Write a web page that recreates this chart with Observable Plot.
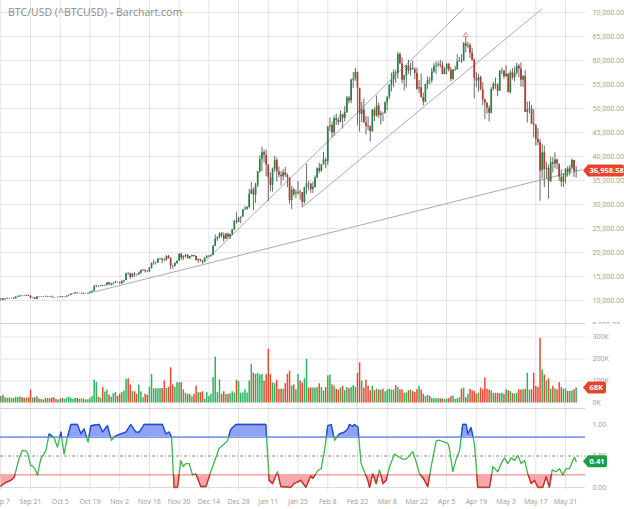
<!DOCTYPE html>
<html><head><meta charset="utf-8">
<script src="https://cdn.jsdelivr.net/npm/d3@7"></script>
<script src="https://cdn.jsdelivr.net/npm/@observablehq/plot@0.6"></script>
<style>
html,body{margin:0;padding:0;background:#fff;}
#root{position:relative;width:624px;height:509px;overflow:hidden;background:#fff;font-family:"Open Sans",sans-serif;}
#root svg{position:absolute;left:0;overflow:hidden;}
.sep{position:absolute;left:0;width:585px;height:1px;background:#d2d2d2;}
#title{position:absolute;left:8px;top:7px;font-size:10.5px;line-height:1;color:#8a8a8a;white-space:nowrap;}
</style></head><body>
<div id="root"></div>
<script>
// ---------- DATA (prices in thousands of USD, one candle per day from 2020-09-07) ----------
const startDate = "2020-09-07";
const open = [
 10.28,10.37,10.13,10.24,10.36,10.40,10.44,10.33,10.68,10.79,10.96,10.94,10.93,11.08,10.92,10.42,10.53,10.24,10.74,10.69,10.73,10.77,10.71,10.84,
 10.78,10.62,10.58,10.55,10.67,10.79,10.60,10.67,10.92,11.06,11.30,11.38,11.56,11.43,11.43,11.50,11.32,11.36,11.48,11.74,11.92,12.82,12.97,12.93,13.11,13.03,13.07,13.65,13.27,13.46,13.56,
 13.80,13.74,13.55,14.03,14.16,15.59,15.58,14.83,15.48,15.33,15.30,15.70,16.28,16.33,16.07,15.96,16.73,17.68,17.80,17.82,18.66,18.68,18.37,18.36,19.16,18.72,17.15,17.14,17.72,18.18,
 19.63,18.80,19.20,19.44,18.70,19.15,19.36,19.17,18.32,18.55,18.26,18.04,18.80,19.14,19.25,19.44,21.31,22.81,23.13,23.87,23.48,22.75,23.82,23.24,23.73,24.71,26.49,26.28,27.08,27.36,28.84,
 29.00,29.37,32.13,33.00,31.97,33.99,36.82,39.37,40.80,40.25,38.24,35.54,34.00,37.39,39.19,36.83,36.07,35.79,36.63,36.07,35.55,30.83,33.01,32.08,32.26,32.57,32.47,30.41,33.47,34.32,34.27,
 33.11,33.54,35.51,37.47,36.93,38.29,39.26,38.90,46.20,46.48,44.92,47.91,47.50,47.11,48.72,47.94,49.13,52.12,51.57,55.89,56.10,57.54,54.21,48.82,49.71,47.05,46.28,46.11,
 45.14,49.63,48.38,50.54,48.56,48.93,48.91,51.21,52.38,54.88,55.88,57.48,57.34,61.24,59.30,55.91,56.80,58.87,57.86,58.35,58.09,57.35,54.08,54.34,52.30,51.32,55.03,55.85,55.78,57.63,58.73,
 58.92,59.10,59.00,57.10,58.20,59.12,57.99,56.03,58.03,58.10,59.77,59.96,59.86,63.50,62.97,63.11,61.53,60.04,56.22,55.72,56.47,53.90,51.76,51.09,50.05,49.00,54.02,55.03,54.82,53.56,
 57.75,57.83,56.63,57.20,53.33,57.42,56.40,57.36,58.80,58.23,55.86,56.70,49.15,49.72,49.88,46.76,46.46,43.54,42.91,37.00,40.78,37.30,37.53,34.77,38.71,38.40,39.29,38.44,35.69,34.65,35.68,
 37.34,36.69,37.58,39.19,36.87];
const high = [
 10.40,10.44,10.35,10.50,10.41,10.48,10.57,10.79,10.94,11.03,11.03,11.05,11.16,11.08,10.99,10.55,10.53,10.78,10.76,10.77,10.80,10.92,10.86,10.83,
 10.91,10.62,10.60,10.68,10.79,10.80,10.68,10.94,11.09,11.45,11.43,11.70,11.56,11.48,11.54,11.50,11.39,11.49,11.79,12.01,13.18,13.16,13.00,13.15,13.17,13.20,13.76,13.84,13.60,13.65,14.03,
 13.86,13.82,14.06,14.23,15.71,15.88,15.69,15.66,15.80,15.48,15.94,16.32,16.47,16.32,16.18,16.86,17.86,18.39,18.02,18.70,18.78,18.69,18.69,19.35,19.39,18.92,17.40,17.88,18.28,19.75,
 19.85,19.30,19.54,19.50,19.16,19.41,19.38,19.29,18.63,18.56,18.27,18.92,19.38,19.31,19.53,21.46,23.70,23.25,24.09,24.21,24.06,23.99,24.06,23.80,24.79,26.72,28.29,27.39,27.37,28.94,29.60,
 29.60,33.16,34.61,33.44,34.44,36.88,40.18,41.95,41.33,41.33,38.33,36.57,37.60,40.00,39.66,37.86,36.85,37.30,37.75,36.35,35.55,33.78,33.41,32.98,34.78,32.93,32.50,33.62,38.41,34.83,34.36,
 34.64,35.98,37.66,38.59,38.31,40.85,39.62,46.20,48.00,47.15,48.46,48.84,48.02,49.49,48.85,50.47,52.51,52.53,56.18,57.50,58.35,57.53,54.18,51.27,51.95,48.37,48.25,46.43,
 49.78,50.14,52.62,51.13,49.42,49.19,51.40,52.39,54.90,57.34,58.01,57.98,61.68,61.60,60.56,56.92,58.93,60.06,59.43,59.83,58.50,58.40,55.84,57.20,53.23,55.06,56.57,56.44,58.34,59.35,59.72,
 59.65,60.06,59.75,58.50,59.43,59.43,58.54,58.10,58.79,61.22,60.63,61.20,63.74,64.86,63.78,63.52,62.56,60.37,57.48,57.10,56.73,55.41,52.00,51.17,50.55,54.36,55.46,56.37,55.14,57.93,
 58.45,57.91,58.93,57.18,57.90,58.33,58.63,59.46,59.21,59.52,56.81,57.94,51.33,51.44,50.64,49.77,46.62,45.78,43.55,42.46,42.17,38.83,38.24,39.84,39.74,40.78,39.45,38.19,37.23,36.42,37.47,
 37.87,38.17,39.48,39.23,37.90];
const low = [
 9.92,9.95,10.08,10.21,10.20,10.33,10.24,10.30,10.64,10.68,10.78,10.82,10.90,10.83,10.34,10.41,10.20,10.22,10.58,10.65,10.62,10.70,10.68,10.70,
 10.54,10.43,10.53,10.54,10.63,10.55,10.59,10.60,10.83,11.06,11.28,11.31,11.35,11.33,11.28,11.25,11.31,11.35,11.48,11.69,11.90,12.72,12.72,12.90,12.91,12.90,13.06,13.19,12.99,13.13,13.54,
 13.66,13.30,13.32,13.59,14.11,15.23,14.42,14.74,14.86,15.09,15.27,15.43,15.99,15.70,15.79,15.87,16.55,17.35,17.39,17.76,18.41,17.67,18.03,18.17,18.62,16.44,16.55,16.90,17.53,18.18,
 18.33,18.35,18.92,18.61,18.58,18.96,19.00,18.20,17.70,17.96,17.60,18.04,18.73,19.00,19.06,19.38,21.26,22.35,22.82,23.08,22.16,22.68,22.92,22.70,23.46,24.52,25.92,26.22,25.99,27.36,28.80,
 28.80,29.09,32.05,28.72,30.22,33.51,36.49,36.83,38.65,35.77,30.55,32.70,32.58,36.70,34.66,35.55,33.85,34.92,35.66,33.49,30.07,28.95,31.68,31.17,31.98,30.88,29.37,30.08,32.06,32.81,32.30,
 32.30,33.42,35.36,36.42,36.65,38.22,37.45,38.08,45.17,43.86,44.23,46.48,46.42,47.02,45.73,47.19,48.97,50.96,50.97,54.11,55.64,46.35,45.07,47.06,46.87,44.45,45.31,43.02,
 45.12,47.29,48.17,47.87,46.54,47.21,48.93,49.53,51.86,53.45,54.32,55.25,56.15,59.10,55.17,53.65,54.23,57.15,56.77,57.98,55.99,53.75,53.08,52.10,50.55,51.33,53.97,54.96,55.22,57.31,57.10,
 58.61,58.42,57.00,57.05,56.98,57.60,55.57,55.86,57.74,57.92,59.66,59.39,59.87,61.55,62.45,60.40,59.80,52.00,54.34,53.41,53.69,50.58,47.71,48.81,47.16,48.85,53.66,53.99,52.43,53.85,
 57.05,56.07,56.48,53.21,52.97,55.93,55.56,56.96,56.39,54.46,54.38,49.15,46.98,48.87,46.66,43.87,42.20,42.29,30.68,35.35,33.49,35.38,31.11,34.55,36.58,37.41,37.25,34.76,33.63,33.52,34.24,
 35.70,35.97,37.20,35.62,35.50];
const close = [
 10.37,10.13,10.24,10.36,10.40,10.44,10.33,10.68,10.79,10.96,10.94,10.93,11.08,10.92,10.42,10.53,10.24,10.74,10.69,10.73,10.77,10.71,10.84,10.78,
 10.62,10.58,10.55,10.67,10.79,10.60,10.67,10.92,11.06,11.30,11.38,11.56,11.43,11.43,11.50,11.32,11.36,11.48,11.74,11.92,12.82,12.97,12.93,13.11,13.03,13.07,13.65,13.27,13.46,13.56,13.80,
 13.74,13.55,14.03,14.16,15.59,15.58,14.83,15.48,15.33,15.30,15.70,16.28,16.33,16.07,15.96,16.73,17.68,17.80,17.82,18.66,18.68,18.37,18.36,19.16,18.72,17.15,17.14,17.72,18.18,19.63,
 18.80,19.20,19.44,18.70,19.15,19.36,19.17,18.32,18.55,18.26,18.04,18.80,19.14,19.25,19.44,21.31,22.81,23.13,23.87,23.48,22.75,23.82,23.24,23.73,24.71,26.49,26.28,27.08,27.36,28.84,29.00,
 29.37,32.13,33.00,31.97,33.99,36.82,39.37,40.80,40.25,38.24,35.54,34.00,37.39,39.19,36.83,36.07,35.79,36.63,36.07,35.55,30.83,33.01,32.08,32.26,32.57,32.47,30.41,33.47,34.32,34.27,33.11,
 33.54,35.51,37.47,36.93,38.29,39.26,38.90,46.20,46.48,44.92,47.91,47.50,47.11,48.72,47.94,49.13,52.12,51.57,55.89,56.10,57.54,54.21,48.82,49.71,47.05,46.28,46.11,45.14,
 49.63,48.38,50.54,48.56,48.93,48.91,51.21,52.38,54.88,55.88,57.48,57.34,61.24,59.30,55.91,56.80,58.87,57.86,58.35,58.09,57.35,54.08,54.34,52.30,51.32,55.03,55.85,55.78,57.63,58.73,58.92,
 59.10,59.00,57.10,58.20,59.12,57.99,56.03,58.03,58.10,59.77,59.96,59.86,63.50,62.97,63.11,61.53,60.04,56.22,55.72,56.47,53.90,51.76,51.09,50.05,49.00,54.02,55.03,54.82,53.56,57.75,
 57.83,56.63,57.20,53.33,57.42,56.40,57.36,58.80,58.23,55.86,56.70,49.15,49.72,49.88,46.76,46.46,43.54,42.91,37.00,40.78,37.30,37.53,34.77,38.71,38.40,39.29,38.44,35.69,34.65,35.68,37.34,
 36.69,37.58,39.19,36.87,36.96];
// daily volume, thousands
const volume = [
 29,35,24,22,23,22,20,26,25,27,24,22,22,24,59,22,24,28,18,16,14,20,21,19,
 23,24,16,14,18,21,17,22,26,22,17,21,20,18,19,17,14,15,22,29,105,95,27,22,70,50,58,36,26,42,48,
 30,40,48,55,107,110,82,51,51,40,82,51,24,40,35,72,130,65,65,65,66,66,100,66,72,160,82,72,92,92,
 92,60,44,39,39,27,39,77,47,47,51,17,47,30,40,115,209,47,106,39,51,39,39,42,51,45,103,97,45,45,60,
 45,100,176,135,130,135,127,130,100,128,244,130,92,88,103,61,62,62,88,130,145,77,82,60,130,100,90,110,198,68,68,
 68,68,71,87,70,55,70,124,127,83,76,63,59,68,76,56,71,65,70,80,71,135,183,100,68,103,76,56,
 76,56,63,59,59,63,51,59,63,59,59,79,71,60,59,44,46,56,59,52,48,60,76,59,40,29,35,30,22,19,19,
 19,19,19,16,19,19,28,32,16,19,24,63,68,24,40,62,56,52,40,45,68,60,114,62,59,56,44,44,44,43,
 44,40,60,56,52,43,40,45,60,59,60,63,135,59,60,135,76,70,294,150,127,100,110,63,76,65,59,92,70,63,63,
 52,52,55,60,68];
// oscillator: day offset from start, value 0..1
const indDay = [0,2,4.7,6.3,8.5,10.2,11.8,12.6,14,15,16,17.3,18.8,21.2,22.8,25.1,26.7,28.3,29.8,31.4,33,36.1,37.7,39.2,41.1,42.4,46.3,47.9,50.2,52.1,54.2,56.5,58.9,61.2,63.6,65.2,67.5,76.1,77.7,79.3,80.4,81.6,83.2,84.8,86,87.1,88.7,90.3,91.8,94.2,96.6,98.9,100.5,102.8,105.2,106.8,108.3,110.7,124.8,126.4,128,130.3,131.9,136.6,138.2,141.3,143.7,146,
 147,149.3,150.9,152.5,154,155.6,157.2,159.5,161.9,163.4,164.2,165.8,166.6,168.2,169.7,171.3,172.9,173.7,175.2,176.8,178.4,180,181.5,183.1,185.4,187.8,189.4,191,192.5,194.1,195.6,197.2,199.6,201.1,202.7,205.1,206.6,209,210.6,211.3,212.9,214.5,216.1,217.6,219.2,220,221.5,223.1,224.7,230.2,231.8,234.1,235.7,237.2,238.8,240.4,242,243.5,245.1,246.7,248.2,249.8,251.4,253,255.3,256.9,258.4,259.7,261.6,263.1,264.7,266.3,267.9,269.4,270.3,271];
const indVal = [0.02,0.07,0.11,0.16,0.45,0.59,0.58,0.55,0.35,0.34,0.30,0.20,0.45,0.58,0.85,0.79,0.64,0.88,0.53,0.80,1.0,1.0,0.85,0.93,0.72,0.98,1.0,0.88,0.98,0.75,0.82,0.85,0.88,1.0,0.88,0.88,1.0,1.0,0.85,0.88,0.80,0.0,0.0,0.43,0.33,0.38,0.38,0.20,0.22,0.01,0.01,0.25,0.40,0.62,0.69,0.74,0.92,1.0,1.0,0.11,0.06,0.25,0.01,0.0,0.06,0.11,0.0,0.18,
 0.14,0.27,0.30,0.59,0.98,1.0,0.75,0.85,0.88,0.93,1.0,0.97,1.0,0.96,0.38,0.25,0.11,0.0,0.22,0.06,0.28,0.06,0.11,0.33,0.53,0.48,0.45,0.45,0.51,0.57,0.41,0.22,0.11,0.01,0.33,0.74,0.75,0.72,0.70,0.62,0.25,0.45,0.59,1.0,1.0,0.85,0.95,0.69,0.0,0.0,0.33,0.25,0.38,0.47,0.38,0.47,0.43,0.51,0.38,0.43,0.22,0.06,0.11,0.0,0.0,0.17,0.0,0.28,0.25,0.30,0.20,0.30,0.30,0.43,0.48,0.41];
// trend lines (date, price in thousands)
const trendStart = ["2020-10-18","2020-12-11","2021-01-27"];
const trendStartVal = [11.46,17.6,29.4];
const trendEnd = ["2021-06-08","2021-04-13","2021-05-20"];
const trendEndVal = [37.3,70.8,70.8];
const peakDate = "2021-04-14", peakVal = 65.3;
const lastPrice = 36958.58, lastVolume = 68, lastInd = 0.41;
const xTicks = ["2020-09-07","2020-09-21","2020-10-05","2020-10-19","2020-11-02","2020-11-16","2020-11-30","2020-12-14","2020-12-28","2021-01-11","2021-01-25","2021-02-08","2021-02-22","2021-03-08","2021-03-22","2021-04-05","2021-04-19","2021-05-03","2021-05-17","2021-05-31"];
const priceTicks = [5,10,15,20,25,30,35,40,45,50,55,60,65,70];
const volTicks = [0,100,200,300];
const indTicks = [0,0.5,1];
const bandHigh = 0.8, bandLow = 0.2;
const titleText = "BTC/USD (^BTCUSD) - Barchart.com";

// ---------- BUILD ----------
const DAY = 864e5, T0 = Date.parse(startDate + "T00:00:00Z");
const at = d => new Date(T0 + d * DAY);
const pd = s => new Date(s + "T00:00:00Z");
const W = 624, MR = 39;
const xDomain = [at(-0.14), at(275.4)];
const xTickDates = xTicks.map(pd);
const st = {fontFamily: '"Open Sans", sans-serif', fontSize: "7px", color: "#9a9a9a", background: "transparent", overflow: "hidden"};
const GRID = "#e4e4e4";
const UPC = "#23844a", DNC = "#b3392b", VUP = "#2db35b", VDN = "#e9492f";

const candles = close.map((c, i) => ({date: at(i), o: open[i], h: high[i], l: low[i], c, up: c >= open[i]}));
const vols = volume.map((v, i) => ({date: at(i), v, up: candles[i].up}));
const ind = indDay.map((d, i) => ({date: at(d), v: indVal[i]}));
const trends = trendStart.map((s, i) => ({x1: pd(s), y1: trendStartVal[i], x2: pd(trendEnd[i]), y2: trendEndVal[i]}));

const root = document.getElementById("root");
const ns = "http://www.w3.org/2000/svg";

function tag(svg, y, text, fill, w) {
  const x0 = 583;
  const g = document.createElementNS(ns, "g");
  const p = document.createElementNS(ns, "path");
  p.setAttribute("d", `M${x0},${y} L${x0+5},${y-6} H${x0+w-2} Q${x0+w},${y-6} ${x0+w},${y-4} V${y+4} Q${x0+w},${y+6} ${x0+w-2},${y+6} H${x0+5} Z`);
  p.setAttribute("fill", fill);
  const t = document.createElementNS(ns, "text");
  t.setAttribute("x", x0 + 6.5); t.setAttribute("y", y); t.setAttribute("dy", "0.35em");
  t.setAttribute("fill", "#fff"); t.setAttribute("font-weight", "700"); t.setAttribute("font-size", "7.5");
  t.setAttribute("text-anchor", "start");
  t.textContent = text;
  g.appendChild(p); g.appendChild(t); svg.appendChild(g);
}

// Price panel
const p1 = Plot.plot({
  width: W, height: 324, marginLeft: 0, marginRight: MR, marginTop: 0, marginBottom: 0, style: st,
  x: {type: "utc", domain: xDomain, axis: null},
  y: {domain: [5, 72.5]},
  marks: [
    Plot.gridX(xTickDates, {stroke: GRID, strokeOpacity: 1}),
    Plot.gridY(priceTicks, {stroke: GRID, strokeOpacity: 1}),
    Plot.axisY({anchor: "right", ticks: priceTicks, tickFormat: d => d3.format(",.2f")(d * 1000), tickSize: 0, tickPadding: 7, label: null}),
    Plot.link(trends, {x1: "x1", y1: "y1", x2: "x2", y2: "y2", stroke: "#ababab", strokeWidth: 1, clip: true}),
    Plot.ruleX(candles, {x: "date", y1: "l", y2: "h", stroke: "#6a6a6a", strokeWidth: 1, clip: true}),
    Plot.ruleX(candles, {x: "date", y1: "o", y2: "c", stroke: d => d.up ? UPC : DNC, strokeWidth: 1.7, clip: true}),
    Plot.dot([{x: pd(peakDate), y: peakVal}], {x: "x", y: "y", symbol: "triangle", r: 1.8, stroke: "#f08aa5", fill: "none", strokeWidth: 1})
  ]
});
p1.style.top = "0px";
root.appendChild(p1);
tag(p1, p1.scale("y").apply(lastPrice / 1000), d3.format(",.2f")(lastPrice), "#e8432d", 41);

// Volume panel
const p2 = Plot.plot({
  width: W, height: 84, marginLeft: 0, marginRight: MR, marginTop: 0, marginBottom: 0, style: st,
  x: {type: "utc", domain: xDomain, axis: null},
  y: {domain: [-25, 356.8]},
  marks: [
    Plot.gridX(xTickDates, {stroke: GRID, strokeOpacity: 1}),
    Plot.gridY(volTicks.filter(v => v > 0), {stroke: GRID, strokeOpacity: 1}),
    Plot.axisY({anchor: "right", ticks: volTicks, tickFormat: d => d + "K", tickSize: 0, tickPadding: 7, label: null}),
    Plot.ruleX(vols, {x: "date", y1: 0, y2: "v", stroke: d => d.up ? VUP : VDN, strokeWidth: 1.5})
  ]
});
p2.style.top = "324px";
root.appendChild(p2);
tag(p2, p2.scale("y").apply(lastVolume), lastVolume + "K", "#e8432d", 23);

// Oscillator panel
const IND_TOP = 408, IND_MIN = -0.0476, IND_MAX = 1.254, IND_PX = 63;
const p3 = Plot.plot({
  width: W, height: 101, marginLeft: 0, marginRight: MR, marginTop: 0, marginBottom: 19, style: st,
  x: {type: "utc", domain: xDomain},
  y: {domain: [IND_MIN, IND_MAX]},
  marks: [
    Plot.gridX(xTickDates, {stroke: GRID, strokeOpacity: 1}),
    Plot.ruleY([0], {stroke: "#dcdcdc"}),
    Plot.ruleY([bandHigh], {stroke: "#809af3", strokeWidth: 1.6}),
    Plot.ruleY([bandLow], {stroke: "#f07474", strokeWidth: 1}),
    Plot.ruleY([0.5], {stroke: "#8a8a8a", strokeWidth: 1, strokeDasharray: "3,2,1,2"}),
    Plot.lineY(ind, {x: "date", y: "v", stroke: "#3db54a", strokeWidth: 1.3}),
    Plot.axisY({anchor: "right", ticks: indTicks, tickFormat: d3.format(".2f"), tickSize: 0, tickPadding: 7, label: null}),
    Plot.axisX({anchor: "bottom", ticks: xTickDates, tickFormat: d3.utcFormat("%b %-d"), tickSize: 0, tickPadding: 9, label: null})
  ]
});
p3.style.top = IND_TOP + "px";
root.appendChild(p3);

// overbought / oversold bands: same data, same x scale, frame-clipped to the band
function band(lo, hi, base, fill, stroke) {
  const svg = Plot.plot({
    width: W, height: (hi - lo) * IND_PX, marginLeft: 0, marginRight: MR, marginTop: 0, marginBottom: 0, style: st,
    x: {type: "utc", domain: xDomain, axis: null},
    y: {domain: [lo, hi], axis: null},
    marks: [
      Plot.areaY(ind, {x: "date", y1: () => base, y2: "v", fill, clip: true}),
      Plot.lineY(ind, {x: "date", y: "v", stroke, strokeWidth: 1.3, clip: true})
    ]
  });
  svg.style.top = (IND_TOP + (IND_MAX - hi) * IND_PX) + "px";
  root.appendChild(svg);
}
band(bandHigh, IND_MAX, bandHigh, "#8fa3f4", "#2646d8");
band(IND_MIN, bandLow, bandLow, "#f7a8ad", "#e2212b");

// value tag for the oscillator on top
const p3tag = Plot.plot({
  width: W, height: 101, marginLeft: 0, marginRight: MR, marginTop: 0, marginBottom: 19, style: st,
  x: {type: "utc", domain: xDomain, axis: null},
  y: {domain: [IND_MIN, IND_MAX], axis: null},
  marks: []
});
p3tag.style.top = IND_TOP + "px";
root.appendChild(p3tag);
tag(p3tag, p3tag.scale("y").apply(lastInd), d3.format(".2f")(lastInd), "#1f9d45", 24);

// separators and title
for (const top of [323, 408]) { const d = document.createElement("div"); d.className = "sep"; d.style.top = top + "px"; root.appendChild(d); }
const title = document.createElement("div"); title.id = "title"; title.textContent = titleText; root.appendChild(title);
</script>
</body></html>
